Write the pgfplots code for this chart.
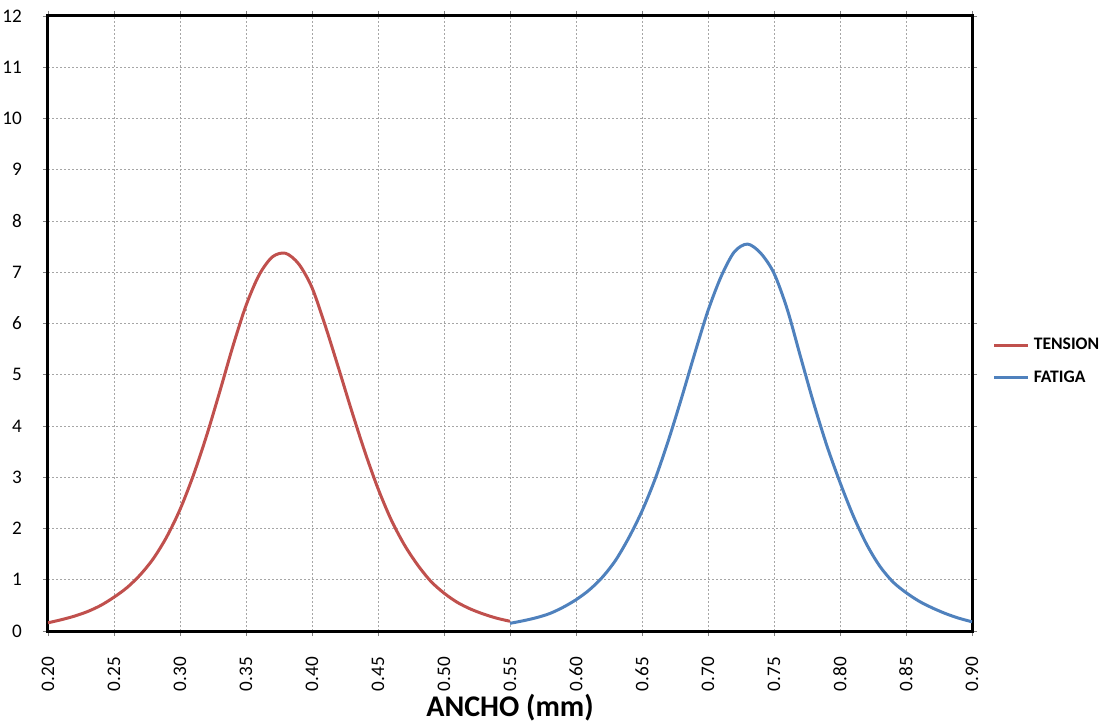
\documentclass[border=0pt]{standalone}
\usepackage{fontspec}
\setmainfont{Carlito}
\usepackage{pgfplots}
\pgfplotsset{compat=1.18}
\usepackage{pgfplotstable}
\definecolor{tred}{RGB}{192,80,77}
\definecolor{fblue}{RGB}{79,129,189}

\pgfplotstableread{
x y
0.20 0.16
0.21 0.22
0.22 0.29
0.23 0.38
0.24 0.50
0.25 0.66
0.26 0.85
0.27 1.10
0.28 1.42
0.29 1.84
0.30 2.37
0.31 3.03
0.32 3.80
0.33 4.66
0.34 5.55
0.35 6.35
0.36 6.95
0.37 7.30
0.38 7.37
0.39 7.16
0.40 6.70
0.41 5.96
0.42 5.14
0.43 4.30
0.44 3.50
0.45 2.78
0.46 2.17
0.47 1.68
0.48 1.29
0.49 0.97
0.50 0.74
0.51 0.56
0.52 0.43
0.53 0.33
0.54 0.25
0.55 0.19
}\tension

\pgfplotstableread{
x y
0.55 0.15
0.56 0.20
0.57 0.26
0.58 0.34
0.59 0.46
0.60 0.61
0.61 0.80
0.62 1.05
0.63 1.38
0.64 1.82
0.65 2.34
0.66 2.97
0.67 3.72
0.68 4.55
0.69 5.42
0.70 6.25
0.71 6.92
0.72 7.40
0.73 7.55
0.74 7.37
0.75 6.98
0.76 6.28
0.77 5.36
0.78 4.45
0.79 3.62
0.80 2.90
0.81 2.25
0.82 1.70
0.83 1.27
0.84 0.96
0.85 0.75
0.86 0.58
0.87 0.45
0.88 0.34
0.89 0.25
0.90 0.18
}\fatiga

\begin{document}
\begin{tikzpicture}
\begin{axis}[
  name=ax,
  scale only axis,
  width=462pt, height=307.5pt,
  xmin=0.2, xmax=0.9, ymin=0, ymax=12,
  xtick={0.20,0.25,...,0.91},
  ytick={0,1,...,12},
  axis line style={black, line width=1.5pt},
  grid=major,
  major grid style={gray!70, line width=0.4pt, dash pattern=on 1pt off 1pt},
  tick align=outside,
  major tick length=2.5pt,
  tick style={gray, line width=0.4pt},
  xticklabel style={rotate=90, anchor=east, font=\fontsize{9.6}{11}\selectfont, xshift=-7pt},
  yticklabel style={font=\fontsize{9.6}{11}\selectfont, xshift=-7pt},
  x tick label style={/pgf/number format/.cd, fixed, fixed zerofill, precision=2, assume math mode=true},
  y tick label style={/pgf/number format/.cd, assume math mode=true},
  xlabel={ANCHO (mm)},
  xlabel style={at={(axis description cs:0.5,0)}, anchor=north, yshift=-31.5pt, font=\bfseries\fontsize{15}{18}\selectfont, inner sep=0pt},
  legend style={draw=none, fill=none, at={(axis description cs:1.0156,0.438)}, anchor=west, font=\bfseries\fontsize{8.8}{10}\selectfont, row sep=5pt},
  legend cell align=left,
  legend image code/.code={\draw[#1] (0pt,0pt) -- (17pt,0pt);},
]
\addplot[tred, line width=1.5pt, smooth, no markers] table[x=x,y=y] {\tension};
\addlegendentry{TENSION}
\addplot[fblue, line width=1.5pt, smooth, no markers] table[x=x,y=y] {\fatiga};
\addlegendentry{FATIGA}
\end{axis}
\pgfresetboundingbox
\path (ax.south west) ++(-24pt,-46.5pt) coordinate (bl);
\path (ax.north east) ++(66.5pt,8pt) coordinate (tr);
\path (bl) rectangle (tr);
\end{tikzpicture}
\end{document}
